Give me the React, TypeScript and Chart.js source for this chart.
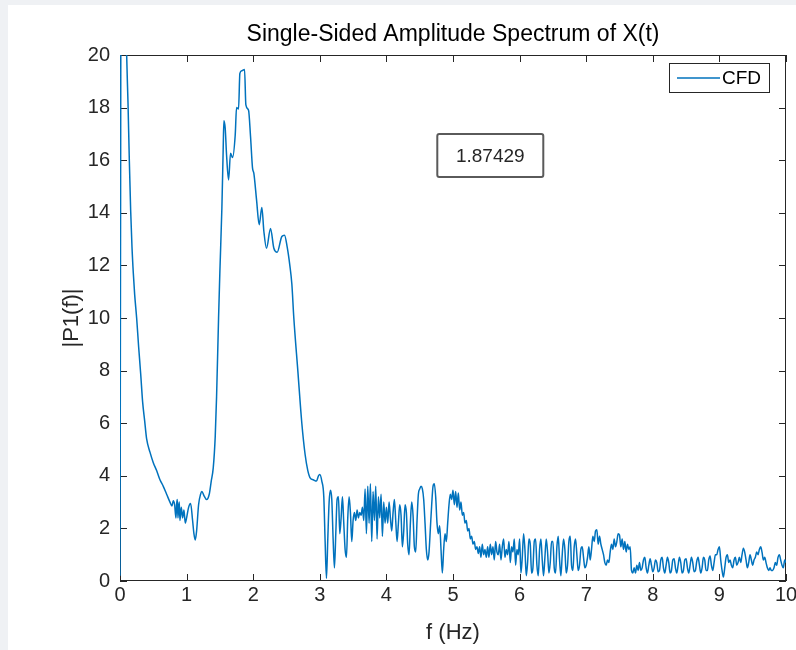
import React, { useEffect, useRef } from "react";
import { Chart, registerables } from "chart.js";

Chart.register(...registerables);

// ---------- data ----------
const titleText = "Single-Sided Amplitude Spectrum of X(t)";
const xLabel = "f (Hz)";
const yLabel = "|P1(f)|";
const seriesLabel = "CFD";
const annotationText = "1.87429";
const annotationAt = [5.56, 16.18]; // (f, |P1|) centre of the text box

const xTicks = [0, 1, 2, 3, 4, 5, 6, 7, 8, 9, 10];
const yTicks = [0, 2, 4, 6, 8, 10, 12, 14, 16, 18, 20];

// 0 – 3.08 Hz: read at irregular frequencies
const lowFreq = [
  0, 0.03, 0.06, 0.09, 0.1, 0.12, 0.14, 0.16, 0.18, 0.2, 0.22, 0.25, 0.28, 0.31, 0.34, 0.37,
  0.4, 0.45, 0.5, 0.55, 0.6, 0.65, 0.7, 0.75, 0.78, 0.8, 0.82, 0.84, 0.85, 0.86, 0.87, 0.88,
  0.89, 0.9, 0.92, 0.94, 0.96, 0.98, 1.0, 1.03, 1.06, 1.09, 1.11, 1.13, 1.15, 1.18, 1.21, 1.23,
  1.26, 1.3, 1.34, 1.37, 1.4, 1.43, 1.45, 1.48, 1.5, 1.53, 1.55, 1.56, 1.58, 1.6, 1.63, 1.66,
  1.69, 1.73, 1.75, 1.78, 1.8, 1.83, 1.87, 1.89, 1.93, 1.96, 1.99, 2.01, 2.05, 2.09, 2.13, 2.16,
  2.2, 2.26, 2.31, 2.36, 2.43, 2.47, 2.51, 2.55, 2.58, 2.61, 2.67, 2.73, 2.78, 2.82, 2.86, 2.9,
  2.95, 2.98, 3.0, 3.03, 3.06, 3.08,
];
const lowAmp = [
  0.2, 40, 33, 21.5, 20.0, 18.2, 16.0, 14.1, 12.7, 11.7, 10.9, 10.0, 8.9, 7.9, 6.8, 6.1,
  5.4, 4.9, 4.5, 4.2, 3.85, 3.6, 3.3, 3.0, 2.85, 3.05, 2.9, 2.4, 2.9, 3.1, 2.4, 2.8,
  3.0, 2.3, 2.8, 2.4, 2.7, 2.2, 2.4, 2.8, 2.95, 2.3, 1.8, 1.56, 1.9, 2.9, 3.3, 3.4,
  3.25, 3.1, 3.3, 3.8, 4.3, 5.5, 7.0, 10.0, 11.8, 14.2, 16.5, 17.5, 17.2, 16.2, 15.25, 16.26,
  16.1, 16.96, 18.0, 17.95, 19.3, 19.4, 19.45, 18.1, 17.9, 16.9, 15.7, 15.5, 14.5, 13.55, 14.2, 13.3,
  12.65, 13.4, 12.65, 12.5, 13.1, 13.15, 12.7, 12.0, 11.3, 10.0, 8.0, 6.0, 4.8, 4.2, 3.9, 3.85,
  3.8, 4.0, 4.05, 3.8, 3.2, 1.5,
];

// 3.10 – 10 Hz: FFT bins every 0.02 Hz, one array per band
const hiStepHz = 0.02;
const amp310 = [0.1, 1.6, 3.0, 3.45, 3.1, 1.6, 0.5, 1.8, 3.1, 3.2, 1.8, 2.4, 3.2, 2.2, 1.2, 0.9, 2.4, 3.2, 2.6, 1.5, 2.3];
const amp352 = [2.6, 2.3, 2.7, 2.4, 2.6, 2.5, 2.8, 2.3, 3.5, 1.8, 3.6, 2.2, 3.7, 1.5, 3.4, 2.3, 3.6, 1.6, 3.2, 2.4, 3.3, 1.7, 3.0, 2.2, 2.8];
const amp402 = [2.2, 3.0, 2.4, 1.9, 2.6, 3.1, 2.3, 1.5, 2.2, 2.9, 2.5, 1.3, 1.9, 2.9, 2.6, 1.4, 1.0, 2.2, 3.0, 2.5, 1.3, 1.1, 2.3, 3.3, 3.5];
const amp452 = [3.6, 3.5, 3.1, 2.2, 1.2, 0.8, 1.1, 2.0, 2.9, 3.6, 3.7, 3.2, 2.2, 1.8, 2.1, 1.2, 0.3, 1.2, 1.8, 1.5, 2.2, 2.9, 3.3, 3.1, 3.45];
const amp502 = [2.9, 3.4, 2.8, 3.35, 2.7, 3.0, 2.5, 2.6, 2.2, 2.3, 1.9, 2.0, 1.6, 1.7, 1.4, 1.5, 1.2, 1.3, 1.05, 1.3, 0.9, 1.4, 1.0, 1.2, 0.9];
const amp552 = [1.3, 0.9, 1.4, 1.0, 1.3, 0.8, 1.5, 1.1, 1.0, 1.4, 0.8, 1.3, 1.6, 0.9, 1.2, 1.0, 1.5, 0.7, 1.3, 1.1, 1.6, 0.6, 1.2, 1.0, 1.6];
const amp602 = [0.3, 0.9, 1.8, 1.2, 0.2, 0.7, 1.6, 1.4, 0.3, 0.5, 1.5, 1.6, 0.6, 0.2, 1.2, 1.6, 0.8, 0.2, 0.9, 1.6, 1.1, 0.3, 0.7, 1.5, 1.5];
const amp652 = [0.5, 0.3, 1.3, 1.7, 0.8, 0.2, 1.0, 1.6, 1.2, 0.3, 0.6, 1.5, 1.7, 0.6, 0.4, 1.3, 1.6, 1.0, 0.4, 0.6, 1.2, 1.3, 0.9, 0.5, 0.6];
const amp702 = [0.9, 1.3, 0.8, 1.2, 1.7, 1.5, 1.9, 1.95, 1.4, 1.7, 1.4, 1.2, 1.0, 0.7, 0.6, 0.8, 0.7, 1.1, 1.4, 1.2, 1.6, 1.3, 1.5, 1.8, 1.75];
const amp752 = [1.3, 1.6, 1.2, 1.5, 1.1, 1.4, 1.2, 1.3, 0.4, 0.3, 0.5, 0.3, 0.6, 0.4, 0.7, 0.4, 0.5, 0.8, 0.9, 0.5, 0.3, 0.6, 0.85, 0.6, 0.35];
const amp802 = [0.5, 0.8, 0.7, 0.35, 0.4, 0.8, 0.9, 0.5, 0.3, 0.6, 0.9, 0.7, 0.3, 0.4, 0.8, 0.85, 0.5, 0.3, 0.6, 0.9, 0.7, 0.3, 0.4, 0.8, 0.85];
const amp852 = [0.5, 0.3, 0.6, 0.9, 0.7, 0.35, 0.4, 0.75, 0.9, 0.6, 0.3, 0.5, 0.9, 0.8, 0.4, 0.4, 0.8, 0.95, 0.6, 0.4, 0.7, 1.0, 1.0, 1.2, 1.3];
const amp902 = [0.8, 0.4, 0.15, 0.5, 0.9, 1.0, 0.7, 0.8, 0.6, 0.5, 0.8, 0.9, 0.6, 0.7, 0.9, 0.7, 1.0, 1.25, 1.1, 0.8, 0.5, 0.7, 1.0, 0.8, 0.6];
const amp952 = [0.8, 0.9, 1.1, 1.0, 1.2, 1.3, 1.1, 0.8, 0.9, 0.7, 0.5, 0.4, 0.5, 0.4, 0.4, 0.5, 0.7, 0.6, 0.9, 1.0, 0.8, 0.6, 0.5, 0.8, 0.7];

const hiBands: [number, number[]][] = [
  [3.1, amp310], [3.52, amp352], [4.02, amp402], [4.52, amp452], [5.02, amp502],
  [5.52, amp552], [6.02, amp602], [6.52, amp652], [7.02, amp702], [7.52, amp752],
  [8.02, amp802], [8.52, amp852], [9.02, amp902], [9.52, amp952],
];

// ---------- styling ----------
const FONT = "'Liberation Sans', Arial, Helvetica, sans-serif";
const AXIS_COLOR = "#262626";
const LINE_COLOR = "#0072BD";

function buildPoints() {
  const pts: { x: number; y: number }[] = [];
  lowFreq.forEach((f, i) => pts.push({ x: f, y: lowAmp[i] }));
  hiBands.forEach(([start, vals]) => {
    vals.forEach((v, i) => pts.push({ x: +(start + i * hiStepHz).toFixed(2), y: v }));
  });
  return pts;
}

const matlabAxes = {
  id: "matlabAxes",
  beforeDatasetsDraw(chart: any) {
    const { ctx, chartArea: a, scales } = chart;
    const xs = scales.x;
    const ys = scales.y;
    ctx.save();
    ctx.strokeStyle = AXIS_COLOR;
    ctx.lineWidth = 1;
    ctx.strokeRect(a.left + 0.5, a.top + 0.5, a.right - a.left - 1, a.bottom - a.top - 1);
    ctx.beginPath();
    const tl = 7;
    xTicks.forEach((t) => {
      const px = Math.round(xs.getPixelForValue(t)) + 0.5;
      ctx.moveTo(px, a.bottom);
      ctx.lineTo(px, a.bottom - tl);
      ctx.moveTo(px, a.top);
      ctx.lineTo(px, a.top + tl);
    });
    yTicks.forEach((t) => {
      const py = Math.round(ys.getPixelForValue(t)) + 0.5;
      ctx.moveTo(a.left, py);
      ctx.lineTo(a.left + tl, py);
      ctx.moveTo(a.right, py);
      ctx.lineTo(a.right - tl, py);
    });
    ctx.stroke();
    ctx.restore();
  },
  afterDraw(chart: any) {
    const { ctx, chartArea: a, scales } = chart;
    ctx.save();
    // legend (northeast)
    const lw = 101, lh = 30;
    const lx = a.right - 16 - lw;
    const ly = a.top + 8;
    ctx.fillStyle = "#ffffff";
    ctx.fillRect(lx, ly, lw, lh);
    ctx.strokeStyle = AXIS_COLOR;
    ctx.lineWidth = 1;
    ctx.strokeRect(lx + 0.5, ly + 0.5, lw - 1, lh - 1);
    ctx.strokeStyle = LINE_COLOR;
    ctx.lineWidth = 1.5;
    ctx.beginPath();
    ctx.moveTo(lx + 8, ly + lh / 2);
    ctx.lineTo(lx + 51, ly + lh / 2);
    ctx.stroke();
    ctx.fillStyle = "#000000";
    ctx.font = `19px ${FONT}`;
    ctx.textAlign = "left";
    ctx.textBaseline = "middle";
    ctx.fillText(chart.data.datasets[0].label, lx + 53, ly + lh / 2 + 1);

    // text annotation box
    const cx = scales.x.getPixelForValue(annotationAt[0]);
    const cy = scales.y.getPixelForValue(annotationAt[1]);
    const bw = 106, bh = 43;
    const bx = cx - bw / 2, by = cy - bh / 2;
    ctx.fillStyle = "#ffffff";
    ctx.strokeStyle = "#5a5a5a";
    ctx.lineWidth = 2;
    ctx.beginPath();
    (ctx as any).roundRect ? ctx.roundRect(bx, by, bw, bh, 2) : ctx.rect(bx, by, bw, bh);
    ctx.fill();
    ctx.stroke();
    ctx.fillStyle = AXIS_COLOR;
    ctx.font = `19px ${FONT}`;
    ctx.textAlign = "center";
    ctx.textBaseline = "middle";
    ctx.fillText(annotationText, cx, cy + 1);
    ctx.restore();
  },
};

export default function App() {
  const canvasRef = useRef<HTMLCanvasElement | null>(null);

  useEffect(() => {
    const canvas = canvasRef.current;
    if (!canvas) return;
    Chart.defaults.font.family = FONT;
    const chart = new Chart(canvas, {
      type: "line",
      data: {
        datasets: [
          {
            label: seriesLabel,
            data: buildPoints(),
            borderColor: LINE_COLOR,
            backgroundColor: LINE_COLOR,
            borderWidth: 1.5,
            pointRadius: 0,
            fill: false,
            cubicInterpolationMode: "monotone",
          },
        ],
      },
      options: {
        animation: false,
        responsive: false,
        devicePixelRatio: 1,
        layout: { padding: { left: 0, right: 22, top: 0, bottom: 0 } },
        plugins: {
          legend: { display: false },
          tooltip: { enabled: false },
          title: {
            display: true,
            fullSize: false,
            text: titleText,
            color: "#000000",
            font: { family: FONT, size: 23, weight: "normal", lineHeight: 1.2 },
            padding: { top: 16, bottom: 6.4 },
          },
        },
        scales: {
          x: {
            type: "linear",
            min: 0,
            max: 10,
            offset: false,
            grid: { display: false, drawTicks: false },
            border: { display: false },
            ticks: {
              stepSize: 1,
              autoSkip: false,
              maxRotation: 0,
              padding: 2,
              color: AXIS_COLOR,
              font: { family: FONT, size: 20 },
              callback: (v: any) => String(v),
            },
            title: {
              display: true,
              text: xLabel,
              color: AXIS_COLOR,
              font: { family: FONT, size: 22, lineHeight: 1.2 },
              padding: { top: 0, bottom: 4 },
            },
            afterFit: (s: any) => {
              s.height = 69;
            },
          },
          y: {
            type: "linear",
            min: 0,
            max: 20,
            grid: { display: false, drawTicks: false },
            border: { display: false },
            ticks: {
              stepSize: 2,
              autoSkip: false,
              padding: 10,
              color: AXIS_COLOR,
              font: { family: FONT, size: 20 },
              callback: (v: any) => String(v),
            },
            title: {
              display: true,
              text: yLabel,
              color: AXIS_COLOR,
              font: { family: FONT, size: 22, lineHeight: 1.2 },
              padding: { top: 51, bottom: 0 },
            },
            afterFit: (s: any) => {
              s.width = 112;
            },
          },
        },
      },
      plugins: [matlabAxes],
    });
    return () => chart.destroy();
  }, []);

  return (
    <div
      style={{
        position: "fixed",
        left: 0,
        top: 0,
        width: 796,
        height: 650,
        overflow: "hidden",
        background: "#eff1f4",
      }}
    >
      <canvas
        ref={canvasRef}
        width={800}
        height={645}
        style={{ position: "absolute", left: 8, top: 5, width: 800, height: 645, background: "#ffffff" }}
      />
    </div>
  );
}
